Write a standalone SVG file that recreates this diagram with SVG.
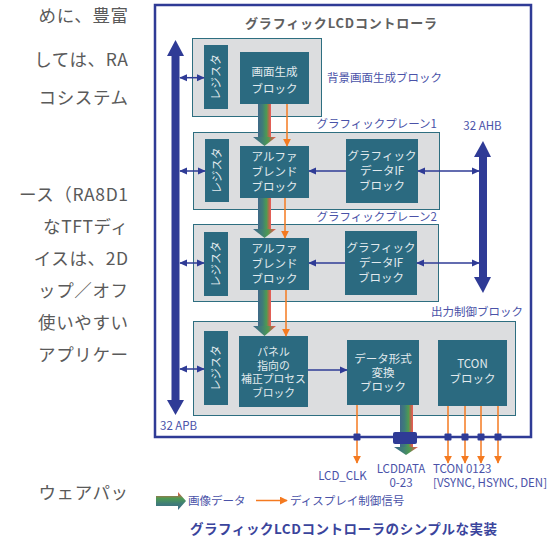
<svg xmlns="http://www.w3.org/2000/svg" width="555" height="540" viewBox="0 0 555 540">
<defs>
<style>
.body{font-family:"Noto Sans CJK JP","Noto Sans",sans-serif;font-size:17.5px;fill:#5a5a5a;letter-spacing:0.6px}
.ttl{font-family:"Noto Sans CJK JP","Noto Sans",sans-serif;font-size:13px;font-weight:bold;fill:#606060}
.lbl{font-family:"Noto Sans CJK JP","Noto Sans",sans-serif;font-size:11.5px;fill:#4a52a8}
.bt{font-family:"Noto Sans CJK JP","Noto Sans",sans-serif;font-size:11.5px;fill:#e2eaee;text-anchor:middle}
.bs{font-size:10.8px}
.cap{font-family:"Noto Sans CJK JP","Noto Sans",sans-serif;font-size:13.5px;font-weight:bold;fill:#3a449c}
.grp{fill:#dcdddf;stroke:#2e6e80;stroke-width:1}
.blk{fill:#2b6a80}
.bus{fill:#2f3b96}
.ln{stroke:#2f3b96;stroke-width:1.5;fill:none}
.or{stroke:#f47a20;stroke-width:1.5;fill:none}
.jn{fill:#2f3b96}
</style>
<linearGradient id="gh" x1="0" y1="0" x2="1" y2="0">
<stop offset="0" stop-color="#3f6888"/>
<stop offset="0.35" stop-color="#3f7d78"/>
<stop offset="0.65" stop-color="#4e9a52"/>
<stop offset="0.85" stop-color="#b86a4a"/>
<stop offset="1" stop-color="#f05a5a"/>
</linearGradient>
<linearGradient id="gv" x1="0" y1="1" x2="0" y2="0">
<stop offset="0" stop-color="#3f6888"/>
<stop offset="0.35" stop-color="#3f7d78"/>
<stop offset="0.65" stop-color="#4e9a52"/>
<stop offset="0.85" stop-color="#b86a4a"/>
<stop offset="1" stop-color="#f05a5a"/>
</linearGradient>
<marker id="ab" viewBox="0 0 10 10" refX="9" refY="5" markerWidth="8" markerHeight="8" orient="auto-start-reverse" markerUnits="userSpaceOnUse">
<path d="M0,0.5 L10,5 L0,9.5 z" fill="#2f3b96"/>
</marker>
<marker id="ao" viewBox="0 0 10 10" refX="9" refY="5" markerWidth="8" markerHeight="8" orient="auto" markerUnits="userSpaceOnUse">
<path d="M0,0 L10,5 L0,10 z" fill="#f47a20"/>
</marker>
</defs>
<rect width="555" height="540" fill="#ffffff"/>

<g id="bodytext" class="body" text-anchor="end">
<text x="128.6" y="22">めに、豊富</text>
<text x="128.6" y="66">しては、RA</text>
<text x="128.6" y="104">コシステム</text>
<text x="128.6" y="201">ース（RA8D1</text>
<text x="128.6" y="233">なTFTディ</text>
<text x="128.6" y="265">イスは、2D</text>
<text x="128.6" y="297">ップ／オフ</text>
<text x="128.6" y="329">使いやすい</text>
<text x="128.6" y="361">アプリケー</text>
<text x="128.6" y="499">ウェアパッ</text>
</g>

<g id="controller">
<rect x="155" y="5" width="376" height="432" fill="none" stroke="#2f3b96" stroke-width="2.5"/>
<text class="ttl" x="341" y="28" text-anchor="middle" textLength="192">グラフィックLCDコントローラ</text>
</g>

<g id="apb-bus">
<rect class="bus" x="171.5" y="55" width="8" height="346"/>
<polygon class="bus" points="167,56 184,56 175.5,40"/>
<polygon class="bus" points="167,400 184,400 175.5,415"/>
<text class="lbl" x="160" y="430" font-size="12">32 APB</text>
</g>

<g id="ahb-bus">
<rect class="bus" x="479" y="156" width="8" height="122"/>
<polygon class="bus" points="474,157 491,157 483,141"/>
<polygon class="bus" points="474,277 491,277 483,293"/>
<text class="lbl" x="482.5" y="130" text-anchor="middle" font-size="12">32 AHB</text>
</g>

<g id="bg-block">
<rect class="grp" x="192.5" y="38.5" width="129" height="78"/>
<rect class="blk" x="204" y="45" width="24" height="64"/>
<text class="bt" transform="translate(216,77) rotate(-90)" y="4">レジスタ</text>
<rect class="blk" x="240" y="52" width="69" height="52"/>
<text class="bt" x="274.5" y="76">画面生成</text>
<text class="bt" x="274.5" y="93">ブロック</text>
<text class="lbl" x="327" y="82">背景画面生成ブロック</text>
</g>

<g id="plane1">
<text class="lbl" x="437" y="128" text-anchor="end">グラフィックプレーン1</text>
<rect class="grp" x="193.5" y="132.5" width="246" height="77"/>
<rect class="blk" x="205" y="139" width="24" height="63"/>
<text class="bt" transform="translate(217,170.5) rotate(-90)" y="4">レジスタ</text>
<rect class="blk" x="240" y="146" width="69" height="52"/>
<text class="bt" x="274.5" y="161">アルファ</text>
<text class="bt" x="274.5" y="176">ブレンド</text>
<text class="bt" x="274.5" y="191">ブロック</text>
<rect class="blk" x="346" y="139" width="72" height="64"/>
<text class="bt" x="382" y="160">グラフィック</text>
<text class="bt" x="382" y="175">データIF</text>
<text class="bt" x="382" y="190">ブロック</text>
</g>

<g id="plane2">
<text class="lbl" x="437" y="221" text-anchor="end">グラフィックプレーン2</text>
<rect class="grp" x="193.5" y="224.5" width="245" height="77"/>
<rect class="blk" x="204" y="232" width="24" height="64"/>
<text class="bt" transform="translate(216,264) rotate(-90)" y="4">レジスタ</text>
<rect class="blk" x="240" y="238" width="69" height="52"/>
<text class="bt" x="274.5" y="253">アルファ</text>
<text class="bt" x="274.5" y="268">ブレンド</text>
<text class="bt" x="274.5" y="283">ブロック</text>
<rect class="blk" x="345" y="231" width="72" height="64"/>
<text class="bt" x="381" y="252">グラフィック</text>
<text class="bt" x="381" y="267">データIF</text>
<text class="bt" x="381" y="282">ブロック</text>
</g>

<g id="output-ctrl">
<text class="lbl" x="523" y="316" text-anchor="end">出力制御ブロック</text>
<rect class="grp" x="193.5" y="321.5" width="322" height="94"/>
<rect class="blk" x="204" y="331" width="24" height="74"/>
<text class="bt" transform="translate(216,368) rotate(-90)" y="4">レジスタ</text>
<rect class="blk" x="239" y="336" width="69" height="71"/>
<text class="bt bs" x="273.5" y="356">パネル</text>
<text class="bt bs" x="273.5" y="369.5">指向の</text>
<text class="bt bs" x="273.5" y="383">補正プロセス</text>
<text class="bt bs" x="273.5" y="396.5">ブロック</text>
<rect class="blk" x="347" y="340" width="72" height="65"/>
<text class="bt" x="383" y="363">データ形式</text>
<text class="bt" x="383" y="377">変換</text>
<text class="bt" x="383" y="391">ブロック</text>
<rect class="blk" x="438" y="340" width="69" height="66"/>
<text class="bt" x="472.5" y="368">TCON</text>
<text class="bt" x="472.5" y="383">ブロック</text>
</g>

<g id="connectors">
<line class="ln" x1="180" y1="77.7" x2="204" y2="77.7" marker-start="url(#ab)" marker-end="url(#ab)"/>
<line class="ln" x1="180" y1="171" x2="205" y2="171" marker-start="url(#ab)" marker-end="url(#ab)"/>
<line class="ln" x1="180" y1="263" x2="204" y2="263" marker-start="url(#ab)" marker-end="url(#ab)"/>
<line class="ln" x1="180" y1="369" x2="204" y2="369" marker-start="url(#ab)" marker-end="url(#ab)"/>
<line class="ln" x1="346" y1="171" x2="309" y2="171" marker-end="url(#ab)"/>
<line class="ln" x1="345" y1="263" x2="309" y2="263" marker-end="url(#ab)"/>
<line class="ln" x1="418" y1="171" x2="479" y2="171" marker-start="url(#ab)" marker-end="url(#ab)"/>
<line class="ln" x1="417" y1="263" x2="479" y2="263" marker-start="url(#ab)" marker-end="url(#ab)"/>
<line class="ln" x1="308" y1="370" x2="347" y2="370" marker-end="url(#ab)"/>

<rect x="258" y="104" width="13" height="34" fill="url(#gh)"/>
<polygon points="253,137 276,137 264.5,146" fill="url(#gh)"/>
<rect x="258" y="198" width="13" height="32" fill="url(#gh)"/>
<polygon points="253,229 276,229 264.5,238" fill="url(#gh)"/>
<rect x="258" y="290" width="13" height="37" fill="url(#gh)"/>
<polygon points="253,326 276,326 264.5,336" fill="url(#gh)"/>
<rect x="400" y="405" width="13" height="43" fill="url(#gh)"/>
<polygon points="394,447 418,447 406,455" fill="url(#gh)"/>
<rect x="393" y="432" width="24" height="12" rx="2" fill="#2f3b96"/>

<line class="or" x1="287" y1="104" x2="287" y2="146" marker-end="url(#ao)"/>
<line class="or" x1="285" y1="198" x2="285" y2="238" marker-end="url(#ao)"/>
<line class="or" x1="286" y1="290" x2="286" y2="336" marker-end="url(#ao)"/>
<line class="or" x1="357" y1="405" x2="357" y2="463" marker-end="url(#ao)"/>
<line class="or" x1="448" y1="406" x2="448" y2="463" marker-end="url(#ao)"/>
<line class="or" x1="465" y1="406" x2="465" y2="463" marker-end="url(#ao)"/>
<line class="or" x1="481" y1="406" x2="481" y2="463" marker-end="url(#ao)"/>
<line class="or" x1="498" y1="406" x2="498" y2="463" marker-end="url(#ao)"/>
<rect class="jn" x="353.5" y="433.5" width="7" height="7" rx="1"/>
<rect class="jn" x="444.5" y="433.5" width="7" height="7" rx="1"/>
<rect class="jn" x="461.5" y="433.5" width="7" height="7" rx="1"/>
<rect class="jn" x="477.5" y="433.5" width="7" height="7" rx="1"/>
<rect class="jn" x="494.5" y="433.5" width="7" height="7" rx="1"/>
</g>

<g id="pin-labels" class="lbl" font-size="12">
<text x="342.5" y="480" text-anchor="middle">LCD_CLK</text>
<text x="401" y="473" text-anchor="middle">LCDDATA</text>
<text x="401" y="487" text-anchor="middle">0-23</text>
<text x="433" y="473">TCON 0123</text>
<text x="433" y="487">[VSYNC, HSYNC, DEN]</text>
</g>

<g id="legend">
<polygon points="156,496 178,496 178,492 186,501 178,510 178,506 156,506" fill="url(#gv)"/>
<text class="lbl" x="188" y="505">画像データ</text>
<line class="or" x1="256" y1="500.5" x2="287" y2="500.5" marker-end="url(#ao)"/>
<text class="lbl" x="290" y="505">ディスプレイ制御信号</text>
<text class="cap" x="343.5" y="534" text-anchor="middle" textLength="307">グラフィックLCDコントローラのシンプルな実装</text>
</g>
</svg>
